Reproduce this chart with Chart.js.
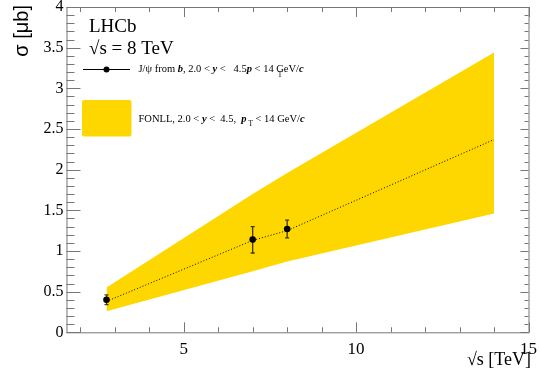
<!DOCTYPE html>
<html>
<head>
<meta charset="utf-8">
<script src="https://cdn.jsdelivr.net/npm/chart.js@4.4.0/dist/chart.umd.min.js"></script>
<style>
  html, body { margin: 0; padding: 0; background: #fff; }
  #wrap { width: 541px; height: 381px; }
</style>
</head>
<body>
<div id="wrap"><canvas id="chart"></canvas></div>
<script>
// LHCb points: J/psi from b, 2.0 < y < 4.5, pT < 14 GeV/c
const energies = [2.76, 7, 8];
const sigma = [0.40, 1.14, 1.27];
const errLow = [0.06, 0.165, 0.11];
const errHigh = [0.06, 0.16, 0.11];

// FONLL prediction band
const fonllEnergies = [2.76, 7, 8, 14];
const fonllUpper = [0.55, 1.70, 1.96, 3.44];
const fonllLower = [0.26, 0.75, 0.87, 1.46];
const fonllCentral = [0.38, 1.13, 1.25, 2.37];

// axis ticks
const xTicks = [5, 10, 15];
const yTicks = [0, 0.5, 1, 1.5, 2, 2.5, 3, 3.5, 4];

const serif = '"Liberation Serif", "Times New Roman", serif';
const sans = '"Liberation Sans", Arial, sans-serif';
const yellow = '#FFD700';
const axisGrey = '#777';

function xy(xs, ys) {
  return xs.map((x, i) => ({ x: x, y: ys[i] }));
}

// error bars under the markers
const errorBars = {
  id: 'errorBars',
  beforeDatasetDraw(chart, args) {
    if (args.index !== 3) return;
    const ctx = chart.ctx, xs = chart.scales.x, ys = chart.scales.y;
    ctx.save();
    ctx.strokeStyle = 'rgba(0,0,0,0.75)';
    ctx.lineWidth = 1.3;
    energies.forEach((e, i) => {
      const px = xs.getPixelForValue(e);
      const top = ys.getPixelForValue(sigma[i] + errHigh[i]);
      const bot = ys.getPixelForValue(sigma[i] - errLow[i]);
      ctx.beginPath();
      ctx.moveTo(px, top); ctx.lineTo(px, bot);
      ctx.moveTo(px - 2, top); ctx.lineTo(px + 2, top);
      ctx.moveTo(px - 2, bot); ctx.lineTo(px + 2, bot);
      ctx.stroke();
    });
    ctx.restore();
  }
};

// ROOT style frame with inward ticks on all four sides
const frame = {
  id: 'frame',
  afterDatasetsDraw(chart) {
    const ctx = chart.ctx, a = chart.chartArea;
    const xs = chart.scales.x, ys = chart.scales.y;
    ctx.save();
    ctx.strokeStyle = axisGrey;
    ctx.lineWidth = 1;
    ctx.strokeRect(a.left + 0.5, a.top + 0.5, a.right - a.left, a.bottom - a.top);
    ctx.beginPath();
    for (let i = 0; i <= 40; i++) {
      const v = i / 10;
      const py = Math.round(ys.getPixelForValue(v)) + 0.5;
      const major = i % 5 === 0;
      ctx.moveTo(a.left, py); ctx.lineTo(a.left + (major ? 14 : 8), py);
      ctx.moveTo(a.right, py); ctx.lineTo(a.right - (major ? 8 : 4), py);
    }
    for (let v = 2; v <= 15; v++) {
      const px = Math.round(xs.getPixelForValue(v)) + 0.5;
      const major = v % 5 === 0;
      ctx.moveTo(px, a.bottom); ctx.lineTo(px, a.bottom - (major ? 10 : 5));
      ctx.moveTo(px, a.top); ctx.lineTo(px, a.top + (major ? 10 : 5));
    }
    ctx.stroke();
    ctx.restore();
  }
};

function drawRich(ctx, x, y, parts, size) {
  parts.forEach(p => {
    const s = p.sub ? size * 0.7 : size;
    ctx.font = (p.bi ? 'italic bold ' : '') + s + 'px ' + serif;
    ctx.fillText(p.t, x, y + (p.sub ? size * 0.45 : 0));
    x += ctx.measureText(p.t).width;
  });
  return x;
}

// labels, legend and axis titles
const texts = {
  id: 'texts',
  afterDraw(chart) {
    const ctx = chart.ctx;
    ctx.save();
    ctx.fillStyle = '#000';
    ctx.textBaseline = 'alphabetic';
    ctx.textAlign = 'left';

    ctx.font = '19px ' + serif;
    ctx.fillText('LHCb', 89, 31.5);
    ctx.fillText('\u221As = 8 TeV', 89, 53.5);

    // legend entry 1: marker
    ctx.strokeStyle = '#000';
    ctx.lineWidth = 1;
    ctx.beginPath();
    ctx.moveTo(83, 69.5); ctx.lineTo(130, 69.5);
    ctx.stroke();
    ctx.beginPath();
    ctx.arc(106.5, 69.5, 3, 0, Math.PI * 2);
    ctx.fill();

    const fs = 10.5;
    let x = drawRich(ctx, 138.5, 72, [
      { t: 'J/\u03C8 from ' }, { t: 'b', bi: true }, { t: ', 2.0 < ' },
      { t: 'y', bi: true }, { t: ' <   4.5' }, { t: 'p', bi: true }, { t: ' < 14 ' }
    ], fs);
    ctx.font = (fs * 0.7) + 'px ' + serif;
    ctx.fillText('T', x + 1.5, 77);
    drawRich(ctx, x, 72, [{ t: 'GeV/' }, { t: 'c', bi: true }], fs);

    // legend entry 2: band box
    ctx.fillStyle = yellow;
    ctx.beginPath();
    ctx.roundRect(82, 100, 49.5, 36.5, 2);
    ctx.fill();
    ctx.fillStyle = '#000';
    drawRich(ctx, 138.5, 121.5, [
      { t: 'FONLL, 2.0 < ' }, { t: 'y', bi: true }, { t: ' <  4.5,  ' },
      { t: 'p', bi: true }, { t: ' T', sub: true }, { t: ' < 14 GeV/' }, { t: 'c', bi: true }
    ], fs);

    // axis titles
    ctx.font = '18px ' + serif;
    ctx.textAlign = 'right';
    ctx.fillText('\u221As [TeV]', 531, 364.5);

    ctx.translate(28, 5);
    ctx.rotate(-Math.PI / 2);
    ctx.font = '20px ' + sans;
    ctx.fillText('\u03C3 [\u03BCb]', 0, 0);
    ctx.restore();
  }
};

new Chart(document.getElementById('chart'), {
  type: 'line',
  data: {
    datasets: [
      { label: 'FONLL upper', data: xy(fonllEnergies, fonllUpper), borderColor: 'rgba(0,0,0,0)',
        borderWidth: 1, pointRadius: 0, backgroundColor: yellow, fill: '+1', order: 3 },
      { label: 'FONLL lower', data: xy(fonllEnergies, fonllLower), borderColor: 'rgba(0,0,0,0)',
        borderWidth: 1, pointRadius: 0, fill: false, order: 4 },
      { label: 'FONLL central', data: xy(fonllEnergies, fonllCentral), borderColor: '#000',
        borderWidth: 1, borderDash: [1, 2], pointRadius: 0, fill: false, order: 2 },
      { label: 'LHCb', data: xy(energies, sigma), showLine: false, pointRadius: 3.3,
        pointBackgroundColor: '#000', pointBorderColor: '#000', pointBorderWidth: 0, order: 1 }
    ]
  },
  options: {
    responsive: true,
    maintainAspectRatio: false,
    animation: false,
    devicePixelRatio: 1,
    layout: { padding: { top: 7, right: 12.5, left: 0, bottom: 0 } },
    plugins: {
      legend: { display: false },
      tooltip: { enabled: false }
    },
    elements: { line: { tension: 0 } },
    scales: {
      x: {
        type: 'linear',
        min: 1.6,
        max: 15,
        grid: { display: false, drawTicks: false },
        border: { display: false },
        afterBuildTicks: s => { s.ticks = xTicks.map(v => ({ value: v })); },
        afterFit: s => { s.height = 48.7; s.paddingLeft = 0; s.paddingRight = 0; },
        ticks: {
          padding: 7,
          maxRotation: 0,
          autoSkip: false,
          color: '#000',
          font: { family: serif, size: 17 },
          callback: v => String(v)
        }
      },
      y: {
        min: 0,
        max: 4,
        grid: { display: false, drawTicks: false },
        border: { display: false },
        afterBuildTicks: s => { s.ticks = yTicks.map(v => ({ value: v })); },
        afterFit: s => { s.width = 66.5; s.paddingTop = 0; s.paddingBottom = 0; },
        ticks: {
          padding: 3,
          autoSkip: false,
          color: '#000',
          font: { family: serif, size: 16 },
          callback: v => String(v)
        }
      }
    }
  },
  plugins: [errorBars, frame, texts]
});
</script>
</body>
</html>
